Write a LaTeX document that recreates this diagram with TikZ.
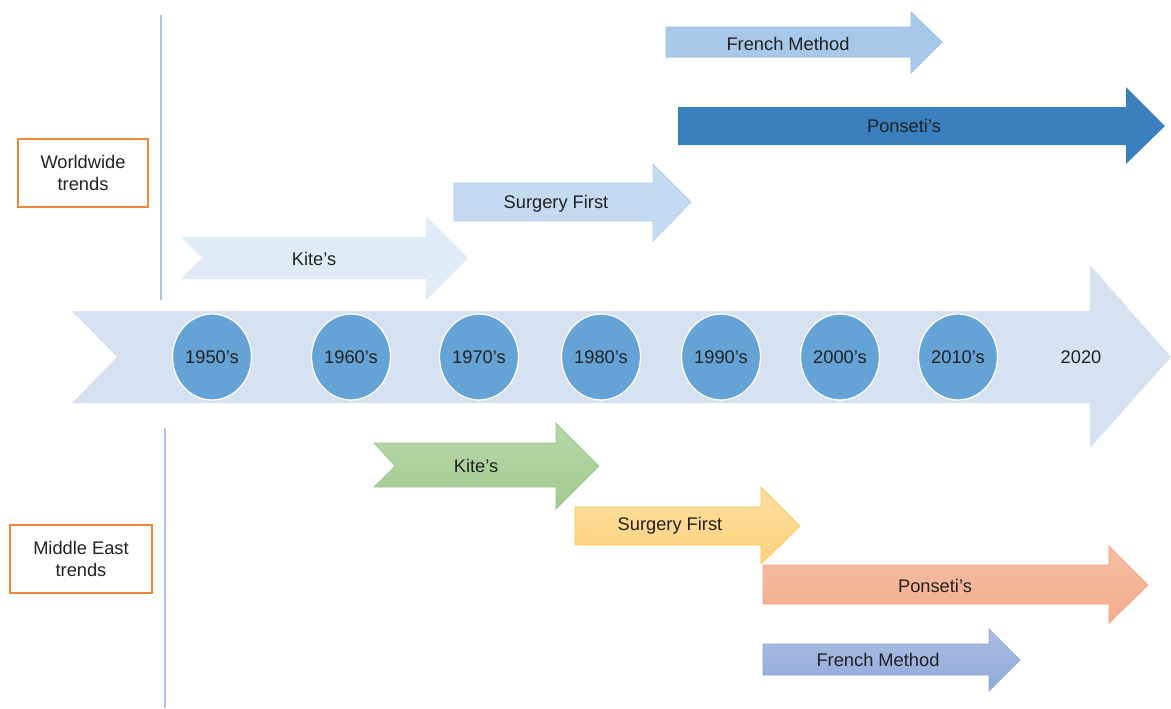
\documentclass[tikz,border=0pt]{standalone}
\usepackage{fontspec}
\setmainfont{Liberation Sans}
\usetikzlibrary{shapes.geometric}
\definecolor{linecol}{HTML}{A9C9EA}
\definecolor{boxcol}{HTML}{F0883A}
\definecolor{axiscol}{HTML}{D6E1F1}
\definecolor{decadecol}{HTML}{65A3D7}
\definecolor{txtcol}{HTML}{222222}
\tikzset{
  trendbox/.style={rectangle,draw=boxcol,line width=0.7pt,align=center,
    minimum width=2.6cm,minimum height=1.36cm,text=txtcol,font=\fontsize{10.4}{12.5}\selectfont},
  decade/.style={ellipse,fill=decadecol,draw=white,line width=0.7pt,inner sep=0pt,
    minimum width=1.58cm,minimum height=1.72cm,text=txtcol,font=\fontsize{10.4}{12.5}\selectfont},
  lbl/.style={text=txtcol,font=\fontsize{10.4}{12.5}\selectfont},
  vline/.style={draw=linecol,line width=0.6pt}
}
\begin{document}
\begin{tikzpicture}[x=0.02cm,y=-0.02cm]
  \useasboundingbox (0,0) rectangle (1171,708);
  % time axis
  \fill[axiscol] (72,311) -- (1090,311) -- (1090,265) -- (1171,357) -- (1090,448)
    -- (1090,403) -- (72,403) -- (117,357) -- cycle;
  \foreach \x/\yr in {212/1950's,351/1960's,479/1970's,601/1980's,721/1990's,840/2000's,958/2010's}
    \node[decade] (d\x) at (\x,357) {\yr};
  \node[lbl] (now) at (1081,357) {2020};

  % worldwide trends
  \coordinate (wtop) at (161,15);
  \coordinate (wbot) at (161,300);
  \draw[vline] (wtop) -- (wbot);
  \node[trendbox] (world) at (83,173) {Worldwide\\trends};
  \fill[fill={rgb,255:red,223;green,235;blue,247}] (181,237) -- (426,237) -- (426,216) -- (468,258)
    -- (426,300) -- (426,279) -- (181,279) -- (202,258) -- cycle;
  \node[lbl] (wkite) at (314,259) {Kite’s};
  \filldraw[fill={rgb,255:red,195;green,218;blue,240},draw={rgb,255:red,178;green,206;blue,234},line width=0.4pt]
    (454,183) -- (653,183) -- (653,164) -- (691,202) -- (653,241) -- (653,221) -- (454,221) -- cycle;
  \node[lbl] (wsurg) at (556,204) {Surgery First};
  \fill[fill={rgb,255:red,58;green,128;blue,191}] (678,107) -- (1126,107) -- (1126,87) -- (1165,126)
    -- (1126,164) -- (1126,145) -- (678,145) -- cycle;
  \node[lbl] (wpons) at (904,126) {Ponseti’s};
  \filldraw[fill={rgb,255:red,168;green,200;blue,233},draw={rgb,255:red,150;green,188;blue,228},line width=0.4pt]
    (666,27) -- (911,27) -- (911,12) -- (942,42) -- (911,73) -- (911,57) -- (666,57) -- cycle;
  \node[lbl] (wfren) at (788,44) {French Method};

  % middle east trends
  \coordinate (mtop) at (165,428);
  \coordinate (mbot) at (165,708);
  \draw[vline] (mtop) -- (mbot);
  \node[trendbox,minimum width=2.84cm] (meast) at (81,559) {Middle East\\trends};
  \shadedraw[top color={rgb,255:red,183;green,216;blue,168},bottom color={rgb,255:red,163;green,202;blue,146},
    draw={rgb,255:red,156;green,198;blue,137},line width=0.4pt]
    (374,443) -- (556,443) -- (556,423) -- (599,466) -- (556,509) -- (556,487) -- (374,487)
    -- (395,466) -- cycle;
  \node[lbl] (mkite) at (476,466) {Kite’s};
  \shadedraw[top color={rgb,255:red,254;green,222;blue,160},bottom color={rgb,255:red,252;green,210;blue,124},
    draw={rgb,255:red,247;green,200;blue,74},line width=0.4pt]
    (575,507) -- (761,507) -- (761,487) -- (800,526) -- (761,564) -- (761,545) -- (575,545) -- cycle;
  \node[lbl] (msurg) at (670,526) {Surgery First};
  \shadedraw[top color={rgb,255:red,246;green,190;blue,165},bottom color={rgb,255:red,243;green,172;blue,140},
    draw={rgb,255:red,241;green,160;blue,124},line width=0.4pt]
    (763,565) -- (1109,565) -- (1109,546) -- (1148,585) -- (1109,623) -- (1109,604) -- (763,604) -- cycle;
  \node[lbl] (mpons) at (935,586) {Ponseti’s};
  \shadedraw[top color={rgb,255:red,171;green,190;blue,228},bottom color={rgb,255:red,145;green,168;blue,218},
    draw={rgb,255:red,142;green,165;blue,218},line width=0.4pt]
    (763,644) -- (989,644) -- (989,629) -- (1020,660) -- (989,691) -- (989,675) -- (763,675) -- cycle;
  \node[lbl] (mfren) at (878,660) {French Method};
\end{tikzpicture}
\end{document}
